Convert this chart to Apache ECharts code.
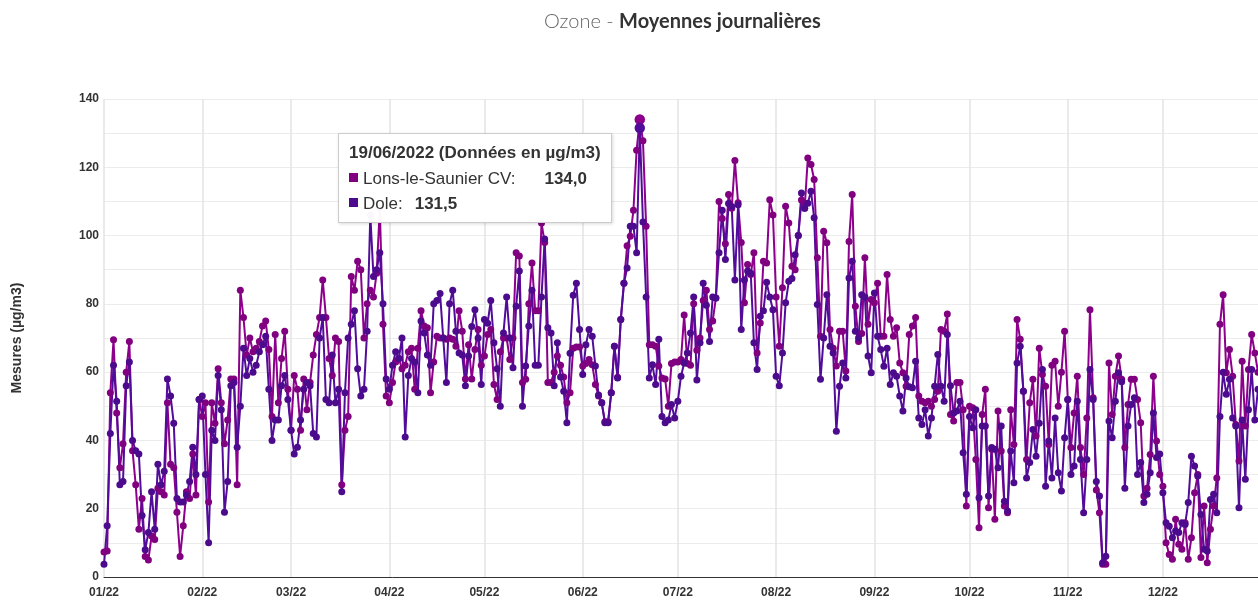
<!DOCTYPE html>
<html>
<head>
<meta charset="UTF-8">
<title>Ozone - Moyennes journalières</title>
<script type="text/javascript" src="https://cdn.jsdelivr.net/npm/echarts@6/dist/echarts.min.js"></script>
<style>
  html, body { margin: 0; padding: 0; background: #fff; }
  #main { width: 1258px; height: 603px; }
</style>
</head>
<body>
<div id="main"></div>
<script type="text/javascript">
// libellés des mois sur l'axe x
var monthLabels = ['01/22', '02/22', '03/22', '04/22', '05/22', '06/22',
                   '07/22', '08/22', '09/22', '10/22', '11/22', '12/22'];

// moyennes journalières Lons-le-Saunier CV (µg/m3), un mois par ligne
var lons = [
  7.3,7.6,54,69.5,48,32,39,60,69,37,27,14,23,6,5,12,11,26,25,24,51,33,32,19,6,15,25,23,36,24,52,
  47,51,22,51,45,61,51,39,46,58,58,27,84,76,65,70,66,67,69,73.5,75,66.6,47,71,51,64,72,55,
  43,59,55,43,58,49,57,65,71,76,87,76,64,59,70,69,27,43,47,88,84,92.5,90,70,80,84,82,89,108,74,53,
  51,57,63,64,61,62,66,67,55,67,78,73.5,73,54,63,70.5,70,70,69.6,70,69.6,67.6,78,72,58,68,58,66.6,72.5,62,
  64.7,71,72.5,56.4,52,66,70,70,63.7,70,95,94,57,57.9,80,92,78,78,103.7,98,57,57,60,64.7,62,58.6,51,54,67,67.4,67.4,
  61.8,62.5,63.7,62.2,56.4,53,51,45.5,45.5,54,67.6,58.5,75.4,86,97,99.8,107.4,125,134,127.8,102.7,68,68,67.6,61.8,58.3,58,50,62.5,63,
  63,63.7,76.7,62.5,62,80,66.4,70,81,84,72.5,75,81.7,110,105,97.6,112,108,122,109.6,98,80.3,91.5,88.6,95,65.6,74.4,92.5,92,110.5,106,
  82,67.6,84.7,108.6,103.7,91,90,100,110.4,108,122.7,120.8,116.4,93.5,70.5,101.3,97.9,72.5,67,61.8,72,72,60.3,98.3,112,79.3,69,71.3,93.5,74,81.3,
  80.3,86,70.5,70.5,88.6,75.4,70.5,73,62.7,59.8,55.9,71,73.5,76,53,51.5,51,51.5,50,52,54.4,72.5,72,77,47.6,45.7,57,57,49,20.8,
  50,49.6,34.4,14.4,47.6,55,20.3,37.4,16.9,48.6,36.9,20.8,18.8,49,38.8,75.4,69.6,54.4,34.4,51,57.9,41.3,67,59.3,55.9,38.8,62,63.2,50,60,72,
  52,37.9,48,58.8,37.9,30,46.6,78.3,52.5,25.5,18.8,3.7,3.7,62.7,47.6,58.8,64.7,57.9,37.9,50.5,57.9,57.9,52,45.2,23.7,26,35.9,58.8,39.8,30,
  26.6,10,6.6,5.2,16.9,9.6,8.1,15.9,5.2,11.5,24.7,30,5.7,20.8,4.2,14,20.8,29,74,82.7,59.8,66.6,58.8,44.7,34,63.2,44.2,60.8,71,65.6,60
];

// moyennes journalières Dole (µg/m3)
var dole = [
  3.7,15,42,62,51.5,27,28,56,63,40,37,36,18,8,13,25,14,33,27,31,58,53,45,23,22,22,24,28,38,30,52,
  53,30,10,43,40,59,49,19,28,56,57,38,50,67,59,64,60,62,66,68,70.5,55,40,46,46,56,59,52,
  43,36,38,46,55,57,56,42,41,70,76,52,51,65,51,55,25,54,70,74,78,61,53,55,72,106,88,90,95,80,58,
  55,62,66,64,70,41,59,64,63,54,75,71.5,65,62,80,81,83,70,57,80,84,72,65.6,65,56,64.7,73.4,78.3,70,56.4,
  75.4,74.3,81,68.6,61,50,71.5,82,70,61.3,79.3,89.6,50,61.8,73.5,84,62,62,82,99,73,71.5,56,68.6,58.6,54.4,45.2,65.5,82.5,86,72.5,
  59.3,68,72.5,70.5,61.8,53.3,51,45.2,45.2,54,67.6,58.3,75.4,86,90.5,102.7,102.7,95,131.5,104,82,58.3,62.2,56.4,69.6,47,45.2,46,50.5,46.6,
  51.5,58.8,62.7,65.6,71.5,82,57.7,68.6,86,79.6,69,82,81.7,95,107.4,93,109.4,108.5,87,109,72.5,87,89.6,89,68.6,60.8,76.4,78,86.3,82,78.3,
  58.8,56,65.6,80.3,86.6,87.4,94.4,100,112.5,108,109.5,113,105.2,79.8,57.9,70,82.7,67.6,65.6,42.7,55.9,62.7,58.3,87.6,92.5,72,70,82.7,82,64.7,59.8,
  83.2,70.5,66.6,61.7,67,56.4,59.8,58.8,53,48.6,58.3,55.7,55.4,63.2,46.6,44.7,49,41.3,46.6,55.9,65.2,55.9,51.5,71,56,48,48.6,51.5,36.4,24.2,
  47,43.7,49,23.2,44.2,44.2,23.7,37.9,37.4,32,44.2,22.2,19.3,36.9,27.6,62.7,67.6,54.4,29,33.5,43.2,35.4,45,60.8,26.6,39.8,29,46.6,30.5,25.2,40.8,
  52,30,32.5,51.5,34.4,18.8,34.4,60.8,52,28,23.7,4.2,6.1,45.7,40.8,51.5,59.8,57.2,26,44.2,50.5,52.5,30,33.5,21.8,24.2,30.5,48,35,36,
  24.7,15.9,14.9,11.5,13.5,13,15.9,15.4,21.8,35.4,32.5,29.6,18.3,8.1,7.6,22.7,24.2,18.8,47,60,53.5,57.9,46.6,44.2,20.3,46,28.6,49,60.8,46,55
];

// jours de l'année 2022 au format JJ/MM/AAAA
var jours = [];
for (var i = 0; i < lons.length; i++) {
  var d = new Date(Date.UTC(2022, 0, 1 + i));
  var dd = ('0' + d.getUTCDate()).slice(-2);
  var mm = ('0' + (d.getUTCMonth() + 1)).slice(-2);
  jours.push(dd + '/' + mm + '/' + d.getUTCFullYear());
}
var jourAffiche = '19/06/2022';

function debutMois(index, value) {
  return value.slice(0, 2) === '01';
}
function fmt(v) {
  return v.toFixed(1).replace('.', ',');
}

var myChart = echarts.init(document.getElementById('main'));

var option = {
  animation: false,
  textStyle: { fontFamily: 'Liberation Sans, Arial, sans-serif' },
  title: {
    text: '{a|Ozone - }{b|Moyennes journalières}',
    left: 539,
    top: 7,
    textStyle: {
      fontWeight: 'normal',
      rich: {
        a: { fontFamily: 'Lato', fontSize: 20, fontWeight: 300, color: '#666' },
        b: { fontFamily: 'Lato', fontSize: 20, fontWeight: 'bold', color: '#333' }
      }
    }
  },
  grid: { left: 104, right: 0, top: 99, bottom: 26 },
  tooltip: {
    trigger: 'axis',
    triggerOn: 'none',
    alwaysShowContent: true,
    transitionDuration: 0,
    axisPointer: { type: 'none' },
    position: [338, 133],
    backgroundColor: 'rgba(255,255,255,0.97)',
    borderColor: '#cccccc',
    borderWidth: 1,
    padding: [6, 10, 6, 10],
    extraCssText: 'box-shadow:1px 1px 3px rgba(0,0,0,0.15);border-radius:0;',
    textStyle: { color: '#333', fontFamily: 'Liberation Sans, Arial, sans-serif', fontSize: 17 },
    formatter: function (params) {
      var html = '<div style="font-weight:bold;font-size:17px;line-height:26px">' +
        params[0].name + ' (Données en µg/m3)</div>';
      params.forEach(function (p) {
        html += '<div style="font-size:17px;line-height:25px">' +
          '<span style="display:inline-block;width:9px;height:9px;margin-right:5px;vertical-align:2px;background:' + p.color + '"></span>' +
          p.seriesName + ':<b style="margin-left:' + (p.seriesIndex === 0 ? 29 : 12) + 'px">' + fmt(p.value) + '</b></div>';
      });
      return html;
    }
  },
  xAxis: {
    type: 'category',
    boundaryGap: false,
    data: jours,
    axisLine: { lineStyle: { color: '#333', width: 1 } },
    axisTick: { show: false },
    axisLabel: {
      interval: debutMois,
      formatter: function (value) {
        return monthLabels[parseInt(value.slice(3, 5), 10) - 1];
      },
      color: '#333',
      fontWeight: 'bold',
      fontSize: 12,
      margin: 10
    },
    splitLine: { show: true, interval: debutMois, lineStyle: { color: '#e3e3e3', width: 1.5 } }
  },
  yAxis: {
    type: 'value',
    min: 0,
    max: 140,
    interval: 20,
    name: 'Mesures (µg/m3)',
    nameLocation: 'middle',
    nameGap: 80,
    nameTextStyle: { color: '#333', fontWeight: 'bold', fontSize: 14 },
    axisLine: { show: false },
    axisTick: { show: false },
    axisLabel: { color: '#333', fontWeight: 'bold', fontSize: 12, margin: 5 },
    splitLine: { lineStyle: { color: '#ececec' } },
    minorTick: { show: false, splitNumber: 2 },
    minorSplitLine: { show: true, lineStyle: { color: '#ececec' } }
  },
  series: [
    {
      name: 'Lons-le-Saunier CV',
      type: 'line',
      data: lons,
      symbol: 'circle',
      symbolSize: 7,
      showAllSymbol: true,
      color: '#800080',
      lineStyle: { width: 2 },
      emphasis: { scale: 1.5 }
    },
    {
      name: 'Dole',
      type: 'line',
      data: dole,
      symbol: 'circle',
      symbolSize: 7,
      showAllSymbol: true,
      color: '#4b0b8c',
      lineStyle: { width: 2 },
      emphasis: { scale: 1.5 }
    }
  ]
};

myChart.setOption(option);
myChart.dispatchAction({
  type: 'showTip',
  seriesIndex: 0,
  dataIndex: jours.indexOf(jourAffiche)
});
</script>
</body>
</html>
